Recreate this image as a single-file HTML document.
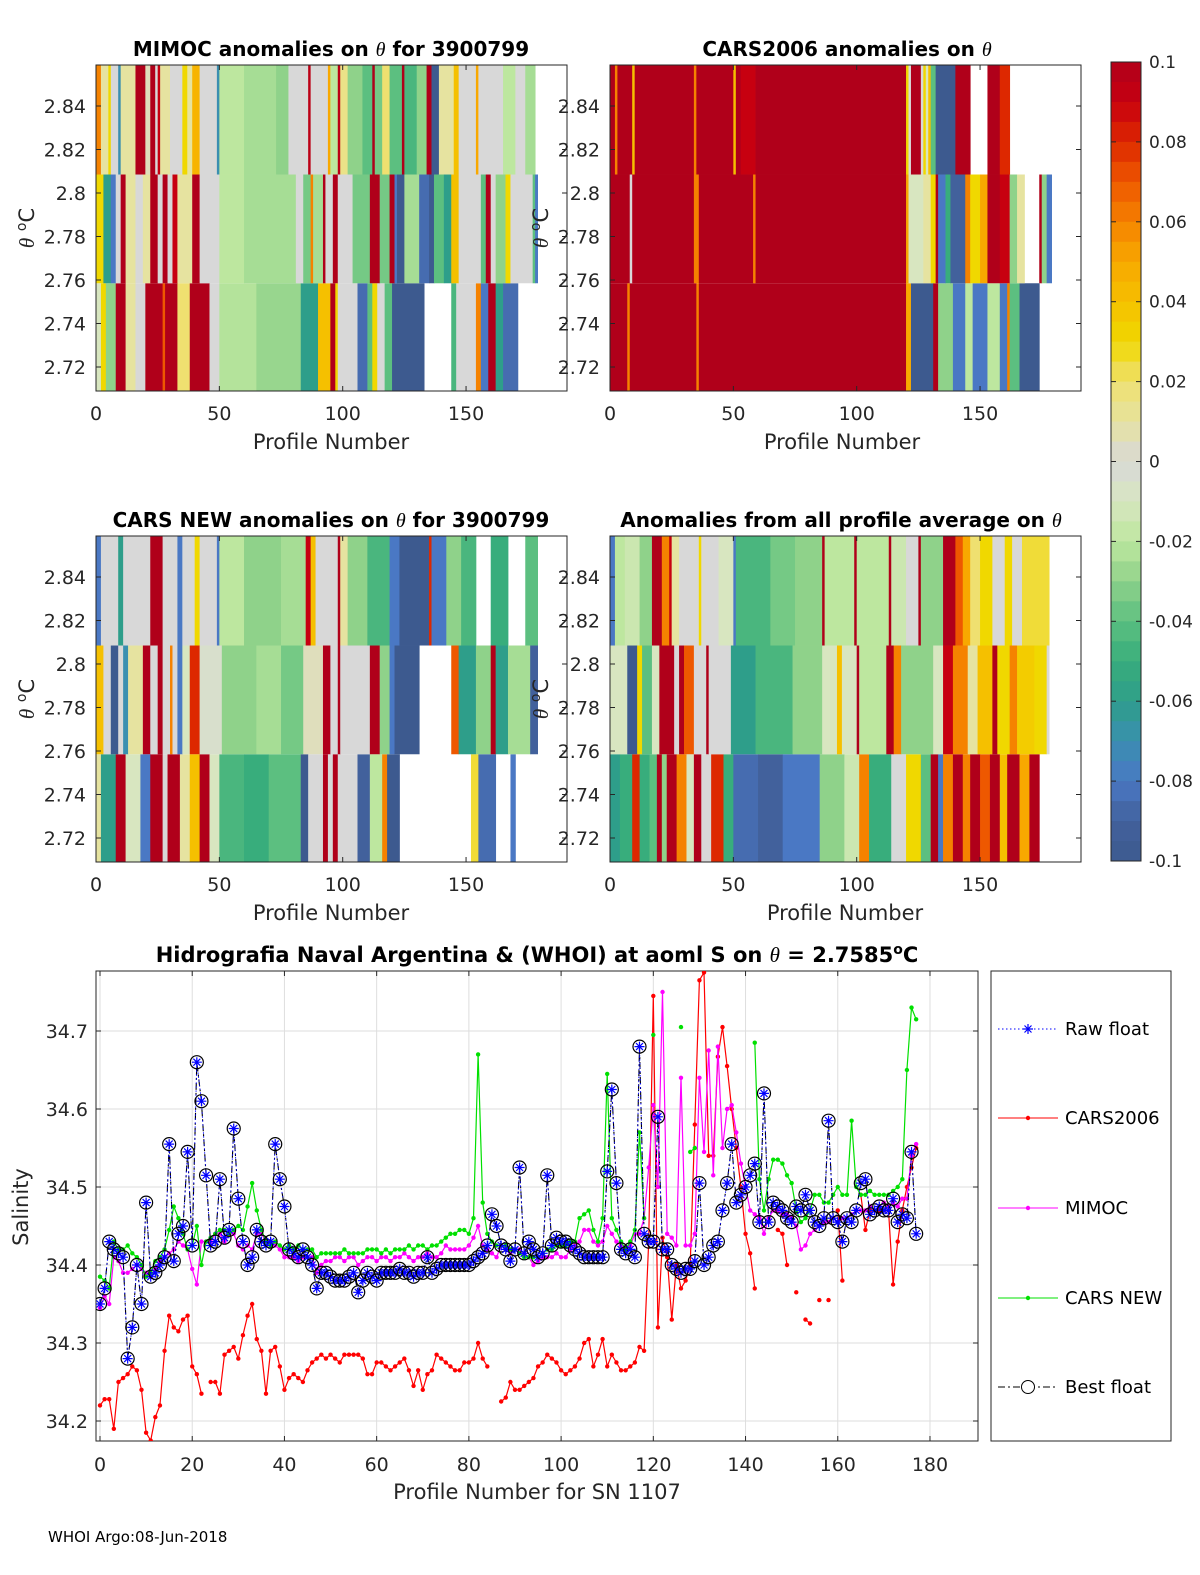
<!DOCTYPE html>
<html><head><meta charset="utf-8"><style>
html,body{margin:0;padding:0;background:#fff;overflow:hidden;width:1200px;height:1575px;}
svg{display:block;font-family:"DejaVu Sans","Liberation Sans",sans-serif;}
</style></head><body>
<svg id="fig" width="1200" height="1575" viewBox="0 0 1200 1575" xmlns="http://www.w3.org/2000/svg">
<defs>
<clipPath id="clipBot"><rect x="96" y="971" width="882" height="470"/></clipPath>
</defs>
<text x="48" y="1542" font-size="15" fill="#000">WHOI Argo:08-Jun-2018</text>
</svg>
<script>
// ---------- heatmap data: run-length [startProfile, anomaly], null = no data ----------
const mimocTop=[[0,0.06],[2,0.01],[5,0.03],[6,0],[9,-0.07],[10,0.01],[16,0.1],[20,0.005],[22,0.1],[24,0],[25,0.09],[26,0.01],[30,0],[35,0.03],[37,0.01],[39,0.045],[42,0],[49,-0.07],[50,-0.02],[60,-0.025],[73,-0.03],[78,0],[86,0.095],[87,0],[94,0.05],[95,-0.02],[98,0.095],[99,0.015],[102,-0.03],[108,-0.04],[112,0.1],[113,-0.035],[116,0.02],[119,-0.04],[124,0.1],[125,-0.045],[130,-0.03],[134,0.1],[136,-0.1],[139,0.01],[145,0.04],[147,0],[154,0.05],[155,0],[165,-0.02],[170,0],[174,-0.025],[178,null]];
const mimocMid=[[0,0.03],[3,-0.06],[6,-0.08],[8,0],[10,0.1],[12,0.01],[16,0],[19,0.01],[22,0.1],[25,0],[27,0.1],[29,0],[31,0.09],[33,0.01],[39,0.1],[42,0],[50,-0.02],[60,-0.025],[81,0],[84,-0.035],[87,0.06],[88,-0.025],[92,0.1],[93,0],[96,0.1],[98,0],[104,-0.035],[111,0.1],[115,-0.035],[119,0.1],[121,-0.08],[122,-0.1],[125,-0.025],[131,-0.085],[135,-0.1],[137,-0.04],[141,-0.06],[144,0.04],[147,0],[156,-0.04],[158,0.1],[160,0],[162,-0.03],[166,0.03],[168,0],[177,-0.04],[178,-0.08],[179,null]];
const mimocBot=[[0,-0.01],[2,0.03],[4,-0.03],[8,0.1],[12,0.01],[16,0],[20,0.1],[27,0.07],[28,0.1],[33,0.02],[38,0.1],[46,0],[50,-0.022],[65,-0.028],[83,-0.06],[90,0.04],[95,0.1],[97,0.03],[98,0],[106,-0.085],[110,-0.04],[112,0.03],[114,0],[117,-0.04],[120,-0.1],[133,null],[144,-0.045],[146,0],[154,0.06],[156,-0.08],[159,0.1],[162,-0.06],[165,-0.085],[171,null]];
const cars06Top=[[0,0.1],[2,0.06],[3,0.1],[9,0.04],[10,0.1],[34,0.06],[35,0.1],[50,0.04],[51,0.1],[53,0.09],[59,0.1],[120,0.03],[121,0],[122,0.1],[126,0],[127,0.03],[128,-0.01],[129,0.04],[130,-0.04],[132,-0.1],[140,0.1],[146,null],[153,0.1],[158,0.08],[162,null]];
const cars06Mid=[[0,0.1],[8,0],[9,0.1],[34,0.06],[36,0.1],[58,0.06],[59,0.1],[120,0.05],[121,-0.01],[127,0.01],[130,0.03],[132,0.1],[133,-0.08],[136,-0.05],[138,-0.09],[144,0.06],[146,0.03],[150,0.05],[153,0.1],[158,0.09],[162,-0.03],[165,0.01],[168,null],[174,0.1],[175,-0.03],[177,-0.08],[179,null]];
const cars06Bot=[[0,0.1],[7,0.06],[8,0.1],[35,0.06],[36,0.1],[120,0.05],[122,-0.1],[131,0.1],[133,-0.03],[139,-0.08],[144,-0.02],[147,-0.08],[153,-0.02],[158,-0.08],[161,0.06],[162,-0.04],[166,-0.1],[174,null]];
const carsNewTop=[[0,-0.08],[2,0],[9,-0.06],[11,0],[22,0.1],[27,0],[33,-0.08],[35,0],[40,0.03],[42,0],[49,-0.08],[50,-0.02],[60,-0.03],[75,-0.025],[85,0.09],[87,0.04],[89,0],[98,0.1],[99,0.01],[102,-0.03],[110,-0.045],[119,-0.08],[123,-0.1],[135,0.08],[136,-0.08],[142,-0.03],[148,-0.045],[154,null],[160,-0.05],[167,null],[174,-0.04],[179,null]];
const carsNewMid=[[0,0.04],[3,0],[6,-0.1],[9,0],[11,-0.07],[13,0.01],[19,0.1],[22,0],[25,0.1],[27,0],[30,0.06],[31,0],[33,-0.08],[35,-0.01],[38,0.08],[42,-0.005],[51,-0.03],[65,-0.025],[75,-0.035],[84,0.005],[92,0.1],[95,0],[98,0.1],[99,0],[111,0.1],[115,-0.03],[119,-0.08],[121,-0.1],[131,null],[144,0.07],[147,-0.06],[154,-0.03],[160,0.1],[162,-0.06],[167,-0.025],[176,-0.09],[179,null]];
const carsNewBot=[[0,0.01],[2,-0.06],[8,0.1],[12,-0.01],[18,-0.08],[22,0.1],[27,0],[29,0.1],[34,0.01],[38,0.04],[42,0.1],[46,-0.01],[50,-0.045],[60,-0.05],[70,-0.04],[83,-0.1],[86,0],[92,0.1],[94,0],[96,0.1],[98,0],[106,-0.09],[111,-0.02],[116,0.06],[118,-0.1],[123,null],[152,0.025],[155,-0.085],[162,null],[168,-0.08],[170,null]];
const avgTop=[[0,-0.08],[2,-0.02],[6,-0.015],[12,-0.03],[17,0.1],[21,0.06],[24,0.09],[25,0.01],[28,0],[36,0.03],[37,0],[44,-0.01],[50,-0.08],[51,-0.045],[65,-0.035],[75,-0.03],[86,0.1],[87,-0.02],[99,0.1],[100,-0.02],[113,0.1],[114,-0.015],[120,0],[125,0.1],[126,-0.03],[135,0.1],[140,0.07],[143,0.05],[146,0.02],[150,0.03],[155,0],[160,0.03],[163,0],[167,0.025],[178,null]];
const avgMid=[[0,-0.01],[7,-0.1],[11,0.03],[13,-0.04],[17,-0.01],[20,0.1],[26,0],[28,0.1],[30,0.07],[34,0],[39,0.1],[40,0],[49,-0.06],[59,-0.045],[74,-0.03],[86,-0.01],[92,0.04],[94,-0.01],[100,0.1],[101,-0.02],[112,0.1],[115,0.06],[118,-0.03],[131,-0.01],[135,0.09],[139,0.06],[145,0.01],[149,0.04],[155,0.1],[157,0.03],[162,0.06],[165,0.035],[172,0.03],[177,0],[178,null]];
const avgBot=[[0,-0.06],[4,-0.05],[9,0.08],[12,-0.05],[16,-0.04],[19,0.1],[21,-0.03],[23,0.1],[27,0.06],[31,-0.01],[34,0.1],[37,0],[41,0.08],[46,-0.05],[50,-0.085],[60,-0.09],[70,-0.08],[85,-0.03],[95,-0.015],[101,0.06],[105,-0.05],[114,0],[120,0.03],[126,-0.04],[130,0.1],[133,-0.08],[135,0.06],[139,0.1],[143,0.06],[146,0.1],[150,0.07],[154,0.1],[158,0.04],[161,0.1],[166,0.05],[170,0.1],[174,null]];
const bandEdges=[2.60,2.7585,2.8085,2.95];
const hmYTicks=[2.72,2.74,2.76,2.78,2.8,2.82,2.84];
const hmXTicks=[0,50,100,150];
const cbTicks=[0.1,0.08,0.06,0.04,0.02,0,-0.02,-0.04,-0.06,-0.08,-0.1];
const cbLabels=["0.1","0.08","0.06","0.04","0.02","0","-0.02","-0.04","-0.06","-0.08","-0.1"];

// ---------- salinity data (profiles 0..177) ----------
const floatSal=[34.35,34.37,34.43,34.42,34.415,34.41,34.28,34.32,34.40,34.35,34.48,34.385,34.39,34.40,34.41,34.555,34.405,34.44,34.45,34.545,34.425,34.66,34.61,34.515,34.425,34.43,34.51,34.435,34.445,34.575,34.485,34.43,34.40,34.41,34.445,34.43,34.425,34.43,34.555,34.51,34.475,34.42,34.415,34.41,34.42,34.41,34.40,34.37,34.39,34.39,
34.385,34.38,34.38,34.38,34.385,34.39,34.365,34.38,34.39,34.385,34.38,34.39,34.39,34.39,34.39,34.395,34.39,34.39,34.385,34.39,34.39,34.41,34.39,34.395,34.40,34.40,34.40,34.40,34.40,34.40,
34.40,34.405,34.41,34.415,34.425,34.465,34.45,34.425,34.42,34.405,34.42,34.525,34.415,34.43,34.42,34.41,34.415,34.515,34.425,34.435,
34.43,34.43,34.425,34.42,34.415,34.41,34.41,34.41,34.41,34.41,34.52,34.625,34.505,34.42,34.415,34.42,34.41,34.68,34.44,34.43,
34.43,34.59,34.42,34.42,34.40,34.395,34.39,34.395,34.395,34.405,34.505,34.40,34.41,34.425,34.43,34.47,34.505,34.555,34.48,34.49,
34.50,34.515,34.53,34.455,34.62,34.455,34.48,34.475,34.47,34.46,34.455,34.475,34.47,34.49,34.47,34.455,34.45,34.46,34.585,34.46,
34.455,34.43,34.46,34.455,34.47,34.505,34.51,34.465,34.47,34.475,34.47,34.47,34.485,34.455,34.465,34.46,34.545,34.44];
const cars06Sal=[34.22,34.228,34.228,34.19,34.25,34.255,34.26,34.27,34.265,34.24,34.185,34.175,34.205,34.22,34.29,34.335,34.32,34.315,34.33,34.335,34.27,34.26,34.235,null,34.25,34.25,34.235,34.285,34.29,34.295,34.28,34.31,34.335,34.35,34.305,34.29,34.235,34.29,34.295,34.27,34.24,34.255,34.26,34.255,34.25,34.265,34.275,34.28,34.285,34.28,
34.285,34.28,34.275,34.285,34.285,34.285,34.285,34.28,34.26,34.26,34.275,34.275,34.27,34.265,34.27,34.275,34.28,34.265,34.245,34.265,34.24,34.26,34.265,34.285,34.28,34.275,34.27,34.265,34.265,34.275,
34.275,34.28,34.30,34.28,34.27,null,null,34.225,34.23,34.25,34.24,34.24,34.245,34.25,34.255,34.27,34.275,34.285,34.28,34.275,
34.265,34.26,34.265,34.27,34.28,34.30,34.305,34.27,34.285,34.305,34.27,34.285,34.275,34.265,34.265,34.27,34.275,34.295,34.29,34.43,
34.745,34.32,34.435,34.41,34.33,34.40,34.37,34.38,34.40,34.58,34.765,34.775,34.54,34.54,34.667,34.705,34.655,34.60,34.55,34.50,
34.44,34.415,34.37,null,null,null,null,34.445,34.44,34.40,null,34.365,null,34.33,34.325,null,34.355,null,34.355,null,
34.47,34.38,null,null,null,34.49,34.445,34.47,34.47,34.47,34.47,34.47,34.375,34.43,34.47,34.50,34.525,34.55];
const mimocSal=[34.345,34.36,34.35,34.41,34.405,34.39,34.39,34.395,34.40,34.395,34.39,34.385,34.395,34.405,34.41,34.415,34.42,34.43,34.425,34.42,34.395,34.375,34.43,34.43,34.43,34.44,34.44,34.43,34.44,34.44,34.425,34.42,34.425,34.42,34.44,34.44,34.43,34.43,34.425,34.42,34.41,34.41,34.41,34.405,34.41,34.41,34.41,34.39,34.40,34.405,
34.405,34.41,34.41,34.405,34.41,34.41,34.40,34.405,34.41,34.41,34.405,34.41,34.41,34.405,34.41,34.41,34.415,34.41,34.405,34.41,34.41,34.415,34.41,34.41,34.415,34.425,34.42,34.42,34.42,34.42,
34.425,34.435,34.45,34.425,34.42,34.415,34.41,34.425,34.42,34.415,34.42,34.42,34.415,34.41,34.40,34.405,34.41,34.41,34.41,34.415,
34.41,34.41,34.42,34.425,34.43,34.445,34.445,34.43,34.425,34.43,34.45,34.44,34.43,34.425,34.42,34.425,34.44,34.44,34.46,34.525,
34.605,34.50,34.75,34.44,34.435,34.425,34.64,34.425,34.425,34.44,34.64,34.545,34.675,34.515,34.68,34.55,34.60,34.605,34.57,34.53,
34.50,34.47,34.465,34.46,34.44,34.46,34.47,34.47,34.465,34.465,34.46,34.45,34.42,34.425,34.44,34.445,34.45,34.455,34.455,34.46,
34.455,34.46,34.46,34.465,34.47,34.47,34.47,34.475,34.47,34.475,34.48,34.475,34.48,34.475,34.485,34.485,34.54,34.555];
const carsNewSal=[34.385,34.38,34.37,34.43,34.42,34.42,34.425,34.415,34.41,34.40,34.385,34.39,34.405,34.41,34.42,34.445,34.475,34.46,34.44,34.42,34.425,34.45,34.40,34.43,34.435,34.44,34.445,34.445,34.44,34.445,34.45,34.445,34.475,34.505,34.47,34.445,34.43,34.425,34.43,34.425,34.42,34.425,34.42,34.425,34.42,34.42,34.42,34.41,34.415,34.415,
34.415,34.415,34.415,34.42,34.415,34.415,34.415,34.415,34.42,34.42,34.42,34.415,34.42,34.415,34.42,34.42,34.42,34.425,34.42,34.425,34.425,34.42,34.425,34.425,34.43,34.435,34.44,34.44,34.445,34.445,
34.44,34.46,34.67,34.48,34.44,34.43,34.425,34.425,34.425,34.42,34.42,34.415,34.41,34.41,34.41,34.41,34.415,34.42,34.42,34.425,
34.425,34.425,34.43,34.43,34.46,34.465,34.47,34.445,34.43,34.46,34.645,34.46,34.445,34.43,34.42,34.43,34.445,34.57,34.46,null,
34.695,null,null,null,null,null,34.705,null,34.545,34.55,null,null,null,null,null,null,null,null,null,null,
null,null,34.685,34.51,34.47,34.51,34.535,34.535,34.53,34.515,34.505,34.47,34.455,34.46,34.47,34.49,34.49,34.48,34.48,34.49,
34.50,34.49,34.49,34.585,34.50,34.49,34.49,34.495,34.49,34.49,34.49,34.49,34.495,34.50,34.51,34.65,34.73,34.715];
const salXTicks=[0,20,40,60,80,100,120,140,160,180];
const salYTicks=[34.2,34.3,34.4,34.5,34.6,34.7];

// ---------- helpers ----------
const NS="http://www.w3.org/2000/svg";
const svg=document.getElementById('fig');
function mk(tag,attrs,parent){const e=document.createElementNS(NS,tag);for(const k in attrs)e.setAttribute(k,attrs[k]);(parent||svg).appendChild(e);return e;}
const cmapV=[-0.1,-0.09,-0.08,-0.07,-0.06,-0.05,-0.04,-0.03,-0.02,-0.01,0,0.01,0.02,0.03,0.04,0.05,0.06,0.07,0.08,0.09,0.1];
const cmapC=["#3d5a8f","#42619c","#4a78c4","#3a8fb0","#2e9e8a","#38ad7c","#5cbf80","#8fd28a","#bde79f","#d8e6c0","#d8d8d8","#e6e3a0","#efe070","#f0d800","#f5c000","#f8a800","#f58200","#ee5800","#dd2800","#c70010","#b0001a"];
function hex(c){return [parseInt(c.substr(1,2),16),parseInt(c.substr(3,2),16),parseInt(c.substr(5,2),16)];}
function cmap(v){v=Math.max(-0.1,Math.min(0.1,v));let i=Math.min(19,Math.floor((v+0.1)/0.01+1e-9));const t=(v-cmapV[i])/0.01;const a=hex(cmapC[i]),b=hex(cmapC[i+1]);return 'rgb('+a.map((x,k)=>Math.round(x+(b[k]-x)*t)).join(',')+')';}
const TH='<tspan font-style="italic" font-weight="normal" font-family="Liberation Serif,serif">θ</tspan>';

// ---------- heatmap panels ----------
const PX=2.467, PY=2175;
function hx(p,x0){return x0+p*PX;}
function hy(v,y0){return y0+41+(2.84-v)*PY;}
const panels=[
 {x0:96,y0:65,title:"MIMOC anomalies on "+TH+"  for 3900799",tx:331,bands:[mimocBot,mimocMid,mimocTop],name:"mimoc",xl:331},
 {x0:610,y0:65,title:"CARS2006 anomalies on "+TH,tx:847,bands:[cars06Bot,cars06Mid,cars06Top],name:"cars2006",xl:842},
 {x0:96,y0:536,title:"CARS NEW anomalies on "+TH+" for 3900799",tx:331,bands:[carsNewBot,carsNewMid,carsNewTop],name:"cars-new",xl:331},
 {x0:610,y0:536,title:"Anomalies from all profile average on "+TH,tx:841,bands:[avgBot,avgMid,avgTop],name:"profile-average",xl:845}
];
panels.forEach((P,pi)=>{
  const W=471,H=326;
  const cid='clipP'+pi;
  const cp=mk('clipPath',{id:cid},svg.querySelector('defs'));
  mk('rect',{x:P.x0,y:P.y0,width:W,height:H},cp);
  const g=mk('g',{'clip-path':'url(#'+cid+')'});
  
  
  P.bands.forEach((runs,bi)=>{
    const yTop=hy(bandEdges[bi+1],P.y0), yBot=hy(bandEdges[bi],P.y0);
    for(let i=0;i<runs.length-1;i++){
      const v=runs[i][1]; if(v===null) continue;
      const xa=hx(runs[i][0],P.x0), xb=hx(runs[i+1][0],P.x0);
      const r=mk('rect',{x:xa.toFixed(2),y:yTop.toFixed(2),width:(xb-xa+0.4).toFixed(2),height:(yBot-yTop).toFixed(2),fill:cmap(v)},g);
      
      
    }
  });
  const box=mk('rect',{x:P.x0,y:P.y0,width:W,height:H,fill:'none',stroke:'#262626','stroke-width':1});
  
  
  hmYTicks.forEach(t=>{
    const y=hy(t,P.y0);
    mk('line',{x1:P.x0,x2:P.x0+5,y1:y,y2:y,stroke:'#262626'});
    mk('line',{x1:P.x0+W,x2:P.x0+W-5,y1:y,y2:y,stroke:'#262626'});
    const tl=mk('text',{x:P.x0-10,y:y+7,'font-size':19,'text-anchor':'end',fill:'#262626'});
    tl.textContent=(t===2.8?'2.8':t.toFixed(2));
    
    
  });
  hmXTicks.forEach(t=>{
    const x=hx(t,P.x0);
    mk('line',{x1:x,x2:x,y1:P.y0+H,y2:P.y0+H-5,stroke:'#262626'});
    mk('line',{x1:x,x2:x,y1:P.y0,y2:P.y0+5,stroke:'#262626'});
    const tl=mk('text',{x:x,y:P.y0+H+29,'font-size':19,'text-anchor':'middle',fill:'#262626'});
    tl.textContent=String(t);
    
    
  });
  const xl=mk('text',{x:P.xl,y:P.y0+H+58,'font-size':21,'text-anchor':'middle',fill:'#262626'});
  xl.textContent='Profile Number';
  
  
  const tt=mk('text',{x:P.tx,y:P.y0-9,'font-size':20,'font-weight':'bold','text-anchor':'middle',fill:'#000'});
  tt.innerHTML=P.title;
  
  
  const yx=P.x0-62, yc=P.y0+163;
  const yl=mk('text',{x:yx,y:yc,'font-size':21,'text-anchor':'middle',fill:'#262626',transform:'rotate(-90 '+yx+' '+yc+')'});
  yl.innerHTML='<tspan font-style="italic" font-family="Liberation Serif,serif">θ</tspan> <tspan baseline-shift="super" font-size="14">o</tspan>C';
  
  
});

// ---------- colorbar ----------
(function(){
  const x0=1111,w=30,yT=62,yB=861;
  const cy=v=>yT+(0.1-v)/0.2*(yB-yT);
  const g=mk('g',{});
  
  
  for(let k=0;k<40;k++){
    const vTop=0.1-k*0.005, vMid=vTop-0.0025;
    mk('rect',{x:x0,y:cy(vTop),width:w,height:(cy(vTop-0.005)-cy(vTop)+0.5),fill:cmap(vMid)},g);
  }
  mk('rect',{x:x0,y:yT,width:w,height:yB-yT,fill:'none',stroke:'#262626'},g);
  cbTicks.forEach((t,i)=>{
    const y=cy(t);
    mk('line',{x1:x0+w,x2:x0+w-5,y1:y,y2:y,stroke:'#262626'},g);
    mk('line',{x1:x0,x2:x0+5,y1:y,y2:y,stroke:'#262626'},g);
    const tl=mk('text',{x:1149,y:y+6,'font-size':17,fill:'#262626'},g);
    tl.textContent=cbLabels[i];
    
    
  });
})();

// ---------- salinity plot ----------
const AX0=96,AX1=978,AY0=971,AY1=1441;
function sx(p){return 100+p*4.611;}
function sy(s){return 1031+(34.7-s)*780;}
(function(){
  const ag=mk('g',{});
  
  
  salXTicks.forEach(t=>{
    const x=sx(t);
    mk('line',{x1:x,x2:x,y1:AY0,y2:AY1,stroke:'#dedede'},ag);
    mk('line',{x1:x,x2:x,y1:AY1,y2:AY1-5,stroke:'#262626'},ag);
    mk('line',{x1:x,x2:x,y1:AY0,y2:AY0+5,stroke:'#262626'},ag);
    const tl=mk('text',{x:x,y:1471,'font-size':19,'text-anchor':'middle',fill:'#262626'},ag);
    tl.textContent=String(t);
    
    
  });
  salYTicks.forEach(t=>{
    const y=sy(t);
    mk('line',{x1:AX0,x2:AX1,y1:y,y2:y,stroke:'#dedede'},ag);
    mk('line',{x1:AX0,x2:AX0+5,y1:y,y2:y,stroke:'#262626'},ag);
    mk('line',{x1:AX1,x2:AX1-5,y1:y,y2:y,stroke:'#262626'},ag);
    const tl=mk('text',{x:88,y:y+7,'font-size':19,'text-anchor':'end',fill:'#262626'},ag);
    tl.textContent=t.toFixed(1);
    
    
  });
  mk('rect',{x:AX0,y:AY0,width:AX1-AX0,height:AY1-AY0,fill:'none',stroke:'#262626'},ag);
  const xl=mk('text',{x:537,y:1499,'font-size':21,'text-anchor':'middle',fill:'#262626'});
  xl.textContent='Profile Number for SN 1107';
  
  
  const yl=mk('text',{x:28,y:1207,'font-size':21,'text-anchor':'middle',fill:'#262626',transform:'rotate(-90 28 1207)'});
  yl.textContent='Salinity';
  
  
  const tt=mk('text',{x:537,y:962,'font-size':21,'font-weight':'bold','text-anchor':'middle',fill:'#000'});
  tt.innerHTML='Hidrografia Naval Argentina &amp; (WHOI) at aoml S on <tspan font-style="italic" font-weight="normal" font-family="Liberation Serif,serif">θ</tspan> = 2.7585<tspan baseline-shift="super" font-size="14">o</tspan>C';
  
  
})();
const plotG=mk('g',{'clip-path':'url(#clipBot)'});


function pathFor(arr){let d='',pen=false;arr.forEach((v,i)=>{if(v===null){pen=false;return;}d+=(pen?'L':'M')+sx(i).toFixed(1)+' '+sy(v).toFixed(1)+' ';pen=true;});return d;}
function lineSeries(arr,color,name){
  const g=mk('g',{},plotG);
  
  
  mk('path',{d:pathFor(arr),fill:'none',stroke:color,'stroke-width':1.2},g);
  arr.forEach((v,i)=>{if(v===null)return;
    const c=mk('circle',{cx:sx(i),cy:sy(v),r:2.2,fill:color},g);
    
    
  });
}
lineSeries(cars06Sal,'#ff0000','cars2006-series');
lineSeries(mimocSal,'#ff00ff','mimoc-series');
lineSeries(carsNewSal,'#00e000','cars-new-series');
function asterisk(g,x,y,r,col){
  mk('path',{d:`M${x-r} ${y}H${x+r}M${x} ${y-r}V${y+r}M${x-r*0.7} ${y-r*0.7}L${x+r*0.7} ${y+r*0.7}M${x-r*0.7} ${y+r*0.7}L${x+r*0.7} ${y-r*0.7}`,stroke:col,'stroke-width':1.2,fill:'none'},g);
}
(function(){
  const g=mk('g',{},plotG);
  
  
  mk('path',{d:pathFor(floatSal),fill:'none',stroke:'#000','stroke-width':1.1,'stroke-dasharray':'7 3 2 3'},g);
  mk('path',{d:pathFor(floatSal),fill:'none',stroke:'#0000ff','stroke-width':0.9,'stroke-dasharray':'1.5 2.5'},g);
  floatSal.forEach((v,i)=>{
    const c=mk('circle',{cx:sx(i),cy:sy(v),r:6.5,fill:'none',stroke:'#000','stroke-width':1.2},g);
    
    
    asterisk(g,sx(i),sy(v),5,'#0000ff');
  });
})();

// ---------- legend ----------
(function(){
  const g=mk('g',{});
  
  
  mk('rect',{x:991,y:971,width:180,height:470,fill:'#fff',stroke:'#262626'},g);
  const items=[['Raw float','#0000ff','raw'],['CARS2006','#ff0000','dot'],['MIMOC','#ff00ff','dot'],['CARS NEW','#00e000','dot'],['Best float','#000','best']];
  const ys=[1029,1118,1208,1298,1387];
  items.forEach((it,i)=>{
    const y=ys[i];
    const e=mk('g',{},g);
    
    
    if(it[2]==='raw'){mk('line',{x1:998,x2:1058,y1:y,y2:y,stroke:'#0000ff','stroke-dasharray':'1.5 2.5'},e);asterisk(e,1028,y,5,'#0000ff');}
    else if(it[2]==='dot'){mk('line',{x1:998,x2:1058,y1:y,y2:y,stroke:it[1]},e);mk('circle',{cx:1028,cy:y,r:2.2,fill:it[1]},e);}
    else {mk('line',{x1:998,x2:1058,y1:y,y2:y,stroke:'#000','stroke-dasharray':'7 3 2 3'},e);mk('circle',{cx:1028,cy:y,r:6.5,fill:'#fff',stroke:'#000'},e);}
    const t=mk('text',{x:1065,y:y+6,'font-size':18,fill:'#000'},e);
    t.textContent=it[0];
  });
})();
</script>
</body></html>
